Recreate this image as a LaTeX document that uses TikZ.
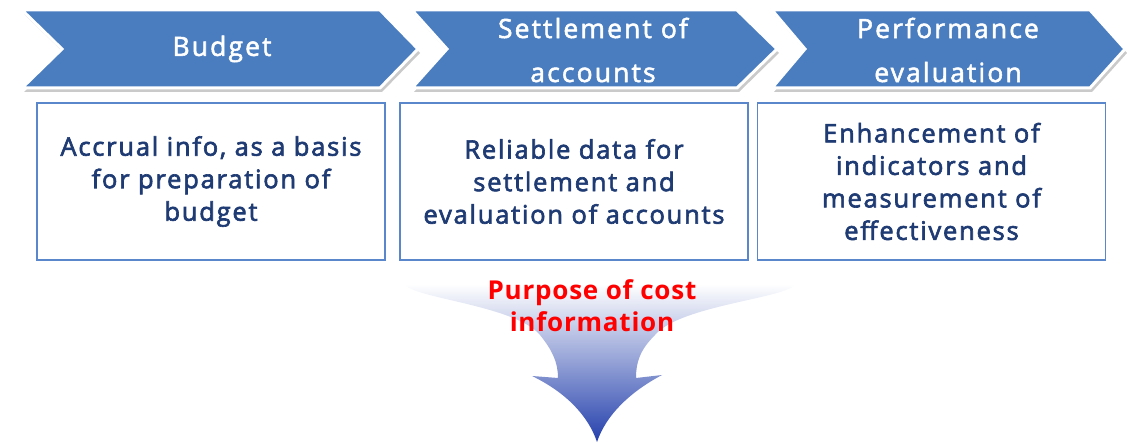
\documentclass[tikz,border=0pt]{standalone}
\usepackage{fontspec}
\setmainfont{Open Sans}
\newfontfamily\barfont{Open Sans}[LetterSpace=8,FakeBold=2]
\newfontfamily\boxfont{Open Sans}[LetterSpace=7,FakeBold=2.5]
\newfontfamily\purposefont{Open Sans Bold}[LetterSpace=3]
\usepackage{xcolor}

\begin{document}
\begin{tikzpicture}[x=1pt,y=-1pt,
  chev/.style={fill=barblue,draw=white,line width=3pt,line join=miter},
  chevshadow/.style={fill=black!35,opacity=.6},
  chevtext/.style={text=white,align=center,font=\barfont\fontsize{26.5}{44}\selectfont},
  infobox/.style={draw=boxblue,line width=1.4pt,minimum width=348pt,minimum height=157pt,
    text=navytext,align=center,font=\boxfont\fontsize{25.5}{32.5}\selectfont},
  purposetext/.style={text=red,align=center,font=\purposefont\fontsize{26}{32}\selectfont}]
\definecolor{barblue}{HTML}{4A7DC0}
\definecolor{boxblue}{HTML}{5A86CC}
\definecolor{navytext}{HTML}{1F3B73}
\definecolor{arrowdeep}{HTML}{2440AC}
\definecolor{red}{HTML}{FF0000}
\useasboundingbox (0,0) rectangle (1127,443);
% chevrons
  \foreach \l/\n/\r/\t in {22/62/380/418,412/447/737/777,772/805/1090/1125}
  {  \fill[chevshadow] (\l+2,14) -- (\r+2,14) -- (\t+2,53) -- (\r+2,92) -- (\l+2,92) -- (\n+2,53) -- cycle;
     \filldraw[chev] (\l,10) -- (\r,10) -- (\t,49) -- (\r,88) -- (\l,88) -- (\n,49) -- cycle;}
\node[chevtext] (budget) at (222,49) {Budget};
\node[chevtext] (settlement) at (593,50) {Settlement of\\accounts};
\node[chevtext] (performance) at (948,50) {Performance\\evaluation};
% boxes
\node[infobox] (accrual) at (211,181.5) {Accrual info, as a basis\\for preparation of\\budget};
\node[infobox] (reliable) at (574,181.5) {Reliable data for\\settlement and\\evaluation of accounts};
\node[infobox] (enhance) at (931.5,181.5) {Enhancement of\\indicators and\\measurement of\\effectiveness};
% big arrow
\shade[top color=white,middle color=arrowdeep!40,bottom color=arrowdeep]
  (405,284) -- (795,284) .. controls (790,298) and (680,305) .. (655,335)
  .. controls (640,350) and (636,362) .. (636,378) -- (662,375)
  .. controls (630,392) and (606,415) .. (597,442)
  .. controls (588,415) and (565,392) .. (532,376) -- (558,378)
  .. controls (558,362) and (552,350) .. (540,335)
  .. controls (515,305) and (410,298) .. (405,284) -- cycle;
\node[purposetext] (purpose) at (592,306) {Purpose of cost\\information};
\end{tikzpicture}
\end{document}
